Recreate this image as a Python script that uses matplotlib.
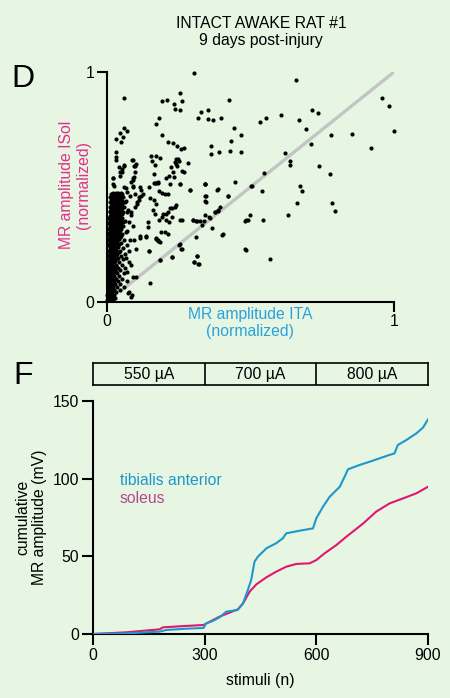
import matplotlib
matplotlib.use("Agg")
import matplotlib.pyplot as plt

plt.rcParams['font.family'] = ['Liberation Sans', 'DejaVu Sans']

BG = '#e6f6e3'
BLUE = '#1e98cc'
MAG = '#e0176f'
SOL_TXT = '#b5478f'
LBL_BLUE = '#2aa2d9'
LBL_MAG = '#e0308a'

# ---------------- Panel D data (normalized MR amplitudes) ----------------
# sparse points (ITA, Sol)
sparse_pts = [
    (0.304, 0.997), (0.657, 0.967), (0.059, 0.889), (0.254, 0.910), (0.193, 0.874),
    (0.209, 0.877), (0.260, 0.874), (0.233, 0.860), (0.237, 0.841), (0.255, 0.834),
    (0.424, 0.880), (0.957, 0.889), (0.984, 0.851), (1.000, 0.745), (0.326, 0.828),
    (0.352, 0.834), (0.317, 0.802), (0.352, 0.795), (0.368, 0.791), (0.397, 0.802),
    (0.181, 0.798), (0.172, 0.776), (0.192, 0.726), (0.608, 0.814), (0.553, 0.798),
    (0.534, 0.781), (0.669, 0.793), (0.716, 0.833), (0.734, 0.821), (0.695, 0.752),
    (0.780, 0.727), (0.853, 0.729), (0.919, 0.671), (0.710, 0.687), (0.740, 0.592),
    (0.776, 0.557), (0.619, 0.649), (0.636, 0.612), (0.636, 0.596), (0.442, 0.755),
    (0.466, 0.726), (0.432, 0.700), (0.428, 0.658), (0.466, 0.651), (0.362, 0.677),
    (0.362, 0.644), (0.390, 0.654), (0.548, 0.560), (0.504, 0.505), (0.446, 0.521),
    (0.386, 0.491), (0.341, 0.515), (0.289, 0.489), (0.341, 0.460), (0.342, 0.437),
    (0.420, 0.459), (0.541, 0.482), (0.672, 0.505), (0.678, 0.481), (0.661, 0.430),
    (0.629, 0.377), (0.785, 0.431), (0.794, 0.395), (0.501, 0.503), (0.542, 0.358),
    (0.386, 0.397), (0.392, 0.413), (0.375, 0.391), (0.355, 0.368), (0.337, 0.354),
    (0.324, 0.354), (0.311, 0.354), (0.300, 0.355), (0.365, 0.322), (0.311, 0.284),
    (0.402, 0.293), (0.486, 0.355), (0.498, 0.377), (0.492, 0.358), (0.481, 0.352),
    (0.481, 0.231), (0.567, 0.186), (0.303, 0.173), (0.318, 0.167), (0.312, 0.199),
    (0.257, 0.232), (0.251, 0.248), (0.225, 0.195), (0.185, 0.183), (0.145, 0.222),
    (0.149, 0.084), (0.177, 0.264), (0.172, 0.273), (0.188, 0.304), (0.137, 0.281),
    (0.116, 0.280), (0.093, 0.268), (0.100, 0.229), (0.484, 0.228), (0.405, 0.294),
    # mid-left cloud
    (0.155, 0.636), (0.170, 0.633), (0.186, 0.627), (0.157, 0.612), (0.166, 0.597),
    (0.164, 0.557), (0.178, 0.521), (0.164, 0.518), (0.172, 0.518), (0.213, 0.694),
    (0.230, 0.690), (0.244, 0.680), (0.258, 0.666), (0.269, 0.669), (0.240, 0.622),
    (0.248, 0.620), (0.236, 0.608), (0.242, 0.600), (0.251, 0.615), (0.281, 0.603),
    (0.244, 0.593), (0.222, 0.586), (0.230, 0.567), (0.216, 0.550), (0.207, 0.538),
    (0.234, 0.542), (0.263, 0.571), (0.269, 0.567), (0.254, 0.514), (0.341, 0.514),
    (0.091, 0.619), (0.099, 0.593), (0.097, 0.567), (0.094, 0.542), (0.091, 0.531),
    (0.065, 0.497), (0.091, 0.505), (0.114, 0.499), (0.147, 0.502), (0.166, 0.516),
    (0.178, 0.516), (0.221, 0.511), (0.256, 0.511), (0.288, 0.488), (0.342, 0.514),
    (0.382, 0.488), (0.344, 0.462), (0.344, 0.434), (0.421, 0.459), (0.126, 0.470),
    (0.120, 0.459), (0.112, 0.442), (0.103, 0.427), (0.096, 0.413), (0.085, 0.391),
    (0.181, 0.482), (0.193, 0.476), (0.201, 0.468), (0.213, 0.470), (0.149, 0.453),
    (0.163, 0.442), (0.172, 0.424), (0.219, 0.410), (0.228, 0.407), (0.236, 0.413),
    (0.213, 0.391), (0.207, 0.384), (0.195, 0.384), (0.190, 0.369), (0.181, 0.358),
    (0.205, 0.358), (0.216, 0.349), (0.225, 0.369), (0.160, 0.398), (0.166, 0.384),
    (0.254, 0.358), (0.263, 0.358), (0.300, 0.355), (0.312, 0.352), (0.330, 0.333),
    (0.341, 0.377), (0.358, 0.367), (0.376, 0.391), (0.387, 0.401), (0.242, 0.420),
    (0.143, 0.348), (0.143, 0.326), (0.114, 0.286), (0.137, 0.286), (0.147, 0.222),
    (0.172, 0.280), (0.178, 0.268), (0.186, 0.261), (0.201, 0.304), (0.213, 0.297),
    (0.254, 0.251), (0.260, 0.232), (0.228, 0.196), (0.184, 0.182), (0.312, 0.199),
    (0.302, 0.173), (0.319, 0.167), (0.091, 0.107), (0.100, 0.110), (0.073, 0.038),
    (0.085, 0.020), (0.094, 0.593), (0.101, 0.602), (0.088, 0.618), (0.059, 0.596),
    (0.051, 0.567), (0.021, 0.540), (0.024, 0.504), (0.033, 0.654), (0.033, 0.629),
    (0.113, 0.457), (0.106, 0.434), (0.117, 0.489), (0.099, 0.469), (0.092, 0.499),
    (0.089, 0.540), (0.082, 0.521), (0.059, 0.755), (0.071, 0.745), (0.047, 0.733),
    (0.056, 0.719), (0.033, 0.709), (0.050, 0.697), (0.033, 0.617), (0.042, 0.586),
    (0.054, 0.579), (0.047, 0.567), (0.058, 0.593), (0.021, 0.538), (0.044, 0.550),
    (0.021, 0.514), (0.065, 0.440), (0.072, 0.400), (0.078, 0.350), (0.068, 0.310),
    (0.081, 0.270), (0.075, 0.220), (0.066, 0.190), (0.083, 0.160), (0.070, 0.130),
    (0.089, 0.330), (0.060, 0.500), (0.070, 0.480), (0.080, 0.460), (0.085, 0.380),
]

# dense cluster near the Sol axis: rows of (Sol value, ITA values)
cluster_rows = [
    (0.475, [0.022, 0.031, 0.040, 0.048]),
    (0.468, [0.015, 0.027, 0.036, 0.053]),
    (0.458, [0.012, 0.020, 0.033, 0.044, 0.057]),
    (0.447, [0.018, 0.029, 0.039, 0.050]),
    (0.436, [0.011, 0.024, 0.035, 0.046, 0.061]),
    (0.425, [0.016, 0.028, 0.041, 0.052]),
    (0.413, [0.010, 0.021, 0.033, 0.045, 0.058]),
    (0.401, [0.014, 0.026, 0.038, 0.049]),
    (0.390, [0.009, 0.019, 0.031, 0.043, 0.055, 0.068]),
    (0.378, [0.013, 0.024, 0.036, 0.047]),
    (0.366, [0.008, 0.018, 0.029, 0.040, 0.052]),
    (0.354, [0.012, 0.023, 0.034, 0.046, 0.062]),
    (0.342, [0.007, 0.017, 0.028, 0.039, 0.050]),
    (0.330, [0.011, 0.022, 0.033, 0.044, 0.057]),
    (0.318, [0.006, 0.016, 0.027, 0.038, 0.049]),
    (0.306, [0.010, 0.021, 0.032, 0.043, 0.066]),
    (0.294, [0.005, 0.015, 0.026, 0.037, 0.053]),
    (0.282, [0.009, 0.020, 0.031, 0.045]),
    (0.270, [0.006, 0.014, 0.025, 0.036, 0.058]),
    (0.258, [0.010, 0.019, 0.030, 0.048]),
    (0.246, [0.005, 0.015, 0.024, 0.040, 0.071]),
    (0.234, [0.011, 0.021, 0.033, 0.055]),
    (0.222, [0.006, 0.016, 0.027, 0.044]),
    (0.210, [0.010, 0.020, 0.036, 0.062]),
    (0.198, [0.005, 0.014, 0.026, 0.048]),
    (0.186, [0.009, 0.019, 0.032, 0.057]),
    (0.174, [0.004, 0.013, 0.024, 0.041, 0.075]),
    (0.162, [0.008, 0.018, 0.030, 0.052]),
    (0.150, [0.004, 0.012, 0.023, 0.038, 0.064]),
    (0.138, [0.007, 0.017, 0.028, 0.046]),
    (0.126, [0.003, 0.011, 0.021, 0.035, 0.058]),
    (0.114, [0.006, 0.015, 0.026, 0.043]),
    (0.102, [0.003, 0.010, 0.019, 0.032, 0.052]),
    (0.090, [0.005, 0.013, 0.024, 0.040, 0.068]),
    (0.078, [0.002, 0.009, 0.017, 0.029, 0.047]),
    (0.066, [0.004, 0.012, 0.021, 0.036, 0.060]),
    (0.054, [0.002, 0.008, 0.015, 0.026, 0.044]),
    (0.042, [0.003, 0.010, 0.019, 0.033, 0.078]),
    (0.030, [0.001, 0.006, 0.013, 0.024, 0.088]),
    (0.018, [0.002, 0.008, 0.016, 0.029]),
    (0.008, [0.001, 0.005, 0.011, 0.020]),
]
# the densest part of the block, between the rows above
cluster_rows_fill = [
    (0.471, [0.018, 0.035, 0.044]),
    (0.463, [0.024, 0.030, 0.041, 0.049]),
    (0.452, [0.015, 0.026, 0.037, 0.047]),
    (0.441, [0.014, 0.022, 0.031, 0.043, 0.054]),
    (0.430, [0.020, 0.032, 0.038, 0.048]),
    (0.419, [0.013, 0.025, 0.036, 0.049]),
    (0.407, [0.018, 0.029, 0.041, 0.053]),
    (0.396, [0.012, 0.023, 0.035, 0.046]),
    (0.384, [0.016, 0.028, 0.040, 0.051]),
    (0.372, [0.011, 0.021, 0.033, 0.044]),
    (0.360, [0.015, 0.026, 0.037, 0.049]),
    (0.348, [0.010, 0.020, 0.031, 0.042, 0.055]),
    (0.336, [0.014, 0.025, 0.036, 0.047]),
    (0.324, [0.009, 0.019, 0.030, 0.041]),
    (0.312, [0.013, 0.024, 0.035, 0.046]),
    (0.300, [0.008, 0.018, 0.029, 0.040]),
    (0.288, [0.012, 0.023, 0.034, 0.050]),
    (0.276, [0.008, 0.017, 0.028, 0.041]),
    (0.264, [0.012, 0.022, 0.034]),
    (0.252, [0.008, 0.018, 0.028, 0.043]),
    (0.240, [0.013, 0.026, 0.037]),
    (0.228, [0.009, 0.019, 0.030]),
    (0.216, [0.013, 0.024, 0.041]),
    (0.204, [0.008, 0.018, 0.030]),
    (0.192, [0.012, 0.022, 0.038]),
    (0.180, [0.007, 0.017, 0.028]),
    (0.156, [0.009, 0.020, 0.033]),
    (0.132, [0.008, 0.019, 0.031]),
    (0.108, [0.007, 0.017, 0.026]),
    (0.084, [0.006, 0.015, 0.022]),
    (0.060, [0.006, 0.011, 0.019]),
]

identity_line = [0.05, 1.0]

# ---------------- Panel F data (cumulative MR amplitude, mV) ----------------
ta_stim = [0, 90, 179, 197, 251, 297, 304, 322, 340, 358, 376, 389, 403, 416, 425,
           434, 443, 466, 492, 510, 519, 555, 591, 600, 618, 636, 663, 676, 685,
           716, 752, 788, 810, 819, 842, 869, 887, 900]
ta_cum = [0, 0.4, 1.5, 2.6, 3.4, 3.9, 6.9, 8.4, 10.7, 14.4, 15.0, 15.5, 19.7, 28.3,
          34.8, 46.6, 49.8, 55.2, 58.4, 61.6, 64.8, 66.5, 68.0, 74.5, 82.0, 88.4,
          94.8, 101.3, 106.0, 108.8, 111.6, 114.6, 116.3, 121.7, 124.9, 129.2,
          133.0, 138.2]
sol_stim = [0, 90, 179, 188, 251, 297, 309, 340, 358, 389, 403, 421, 439, 466, 492,
            519, 546, 582, 600, 622, 654, 681, 726, 761, 797, 833, 869, 900]
sol_cum = [0, 1.1, 3.0, 4.3, 5.2, 5.8, 7.3, 11.2, 12.9, 15.9, 19.7, 27.3, 32.0,
           36.5, 40.1, 43.3, 45.1, 45.5, 47.6, 51.9, 57.3, 62.7, 71.2, 78.8, 84.1,
           87.3, 90.6, 94.8]
blocks = ['550 µA', '700 µA', '800 µA']
block_edges = [0, 300, 600, 900]

# ---------------- figure ----------------
W, H = 450, 698
fig = plt.figure(figsize=(W / 100, H / 100), dpi=100, facecolor=BG)

def fx(px):
    return px / W

def fy(py):
    return 1 - py / H

FS = 11.3

# Panel D
axD = fig.add_axes([fx(107), fy(302), fx(394) - fx(107), fy(72) - fy(302)])
axD.set_facecolor(BG)
axD.plot(identity_line, identity_line, color='#c4c4c4', lw=2.4, zorder=1,
         solid_capstyle='butt')
sx = [p[0] for p in sparse_pts]
sy = [p[1] for p in sparse_pts]
all_rows = cluster_rows + cluster_rows_fill
cx = [x for y, xs in all_rows for x in xs]
cy = [y for y, xs in all_rows for x in xs]
axD.scatter(sx + cx, sy + cy, s=9, color='black', linewidths=0, zorder=3,
            clip_on=False)
axD.set_xlim(0, 1)
axD.set_ylim(0, 1)
axD.set_xticks([0, 1])
axD.set_yticks([0, 1])
axD.set_xticklabels(['0', '1'])
axD.set_yticklabels(['0', '1'])
for s in ['top', 'right']:
    axD.spines[s].set_visible(False)
for s in ['left', 'bottom']:
    axD.spines[s].set_linewidth(1.5)
axD.tick_params(direction='out', length=7, width=1.5, labelsize=FS, pad=2)

fig.text(fx(261), fy(32), 'INTACT AWAKE RAT #1\n9 days post-injury', ha='center',
         va='center', fontsize=FS, linespacing=1.15)
fig.text(fx(11), fy(79), 'D', fontsize=23, ha='left', va='center')
fig.text(fx(250), fy(323), 'MR amplitude ITA\n(normalized)', ha='center',
         va='center', fontsize=FS, color=LBL_BLUE, linespacing=1.1)
fig.text(fx(75), fy(185), 'MR amplitude ISol\n(normalized)', ha='center',
         va='center', fontsize=FS, color=LBL_MAG, rotation=90, linespacing=1.1)

# Panel F stimulus blocks
axB = fig.add_axes([fx(93), fy(385), fx(428) - fx(93), fy(363) - fy(385)])
axB.set_facecolor(BG)
axB.set_xlim(block_edges[0], block_edges[-1])
axB.set_ylim(0, 1)
axB.set_xticks([])
axB.set_yticks([])
for s in axB.spines.values():
    s.set_linewidth(1.2)
for e in block_edges[1:-1]:
    axB.axvline(e, color='black', lw=1.2)
for i, lab in enumerate(blocks):
    axB.text((block_edges[i] + block_edges[i + 1]) / 2, 0.5, lab, ha='center',
             va='center', fontsize=FS)

# Panel F
axF = fig.add_axes([fx(93), fy(634), fx(428) - fx(93), fy(401) - fy(634)])
axF.set_facecolor(BG)
axF.plot(sol_stim, sol_cum, color=MAG, lw=1.5, zorder=2)
axF.plot(ta_stim, ta_cum, color=BLUE, lw=1.5, zorder=3)
axF.set_xlim(0, 900)
axF.set_ylim(0, 150)
axF.set_xticks([0, 300, 600, 900])
axF.set_yticks([0, 50, 100, 150])
for s in ['top', 'right']:
    axF.spines[s].set_visible(False)
for s in ['left', 'bottom']:
    axF.spines[s].set_linewidth(1.5)
axF.tick_params(direction='out', length=8, width=1.5, labelsize=FS, pad=2)
axF.text(72, 99, 'tibialis anterior', color=BLUE, fontsize=FS, va='center')
axF.text(72, 87, 'soleus', color=SOL_TXT, fontsize=FS, va='center')

fig.text(fx(13), fy(376), 'F', fontsize=23, ha='left', va='center')
fig.text(fx(260), fy(680), 'stimuli (n)', ha='center', va='center', fontsize=FS)
fig.text(fx(31), fy(517), 'cumulative\nMR amplitude (mV)', ha='center',
         va='center', fontsize=FS, rotation=90, linespacing=1.1)

fig.savefig('out.png', dpi=100, facecolor=BG)
